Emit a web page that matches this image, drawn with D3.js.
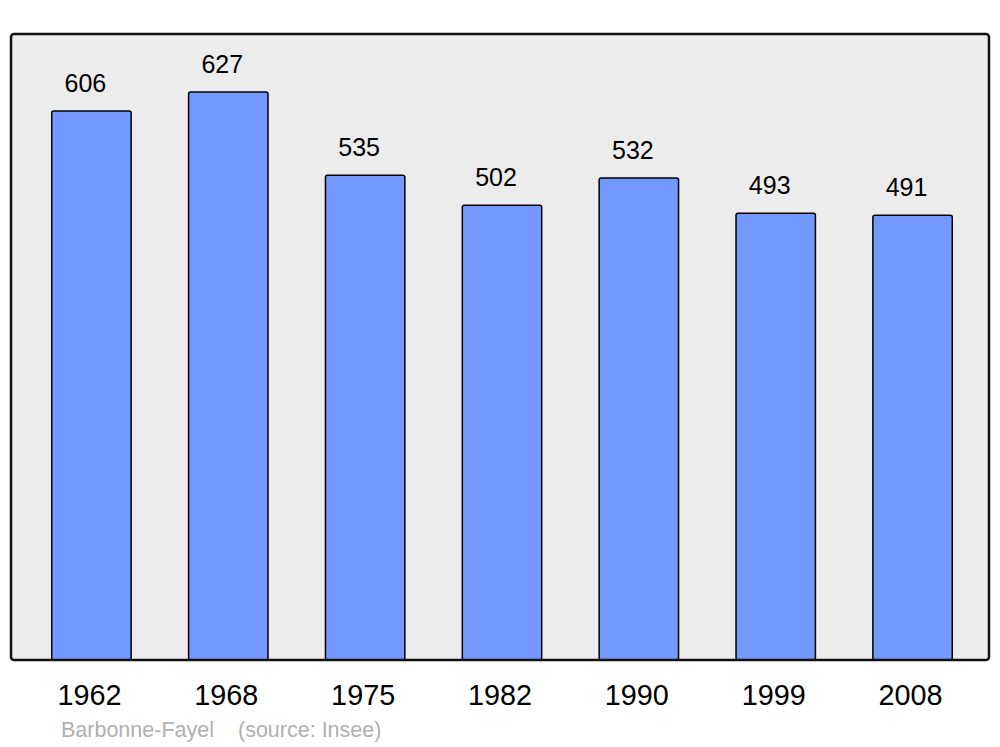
<!DOCTYPE html>
<html><head><meta charset="utf-8">
<script src="https://cdn.jsdelivr.net/npm/d3@7"></script>
<style>body{margin:0;background:#fff}svg{display:block}</style>
</head><body>
<script>
const years = ["1962","1968","1975","1982","1990","1999","2008"];
const population = [606,627,535,502,532,493,491];
const placeName = "Barbonne-Fayel";
const sourceText = "(source: Insee)";

const W=1000,H=747;
const svg=d3.select("body").append("svg").attr("width",W).attr("height",H);
const panel={x0:11,x1:989,y0:34,y1:660};

svg.append("rect").attr("x",panel.x0).attr("y",panel.y0)
  .attr("width",panel.x1-panel.x0).attr("height",panel.y1-panel.y0)
  .attr("rx",3).attr("fill","#ececec");

const x=d3.scaleBand().domain(years).range([23,981]).paddingInner(0.42).paddingOuter(0.21);
const y=d3.scaleLinear().domain([0,691]).range([panel.y1,panel.y0]);

svg.selectAll("rect.bar").data(population).join("rect").attr("class","bar")
  .attr("x",(d,i)=>x(years[i])).attr("y",d=>y(d))
  .attr("width",x.bandwidth()).attr("height",d=>y(0)-y(d))
  .attr("rx",2).attr("fill","#7399ff").attr("stroke","#000").attr("stroke-width",1.5);

svg.selectAll("text.val").data(population).join("text").attr("class","val")
  .attr("x",(d,i)=>x(years[i])+x.bandwidth()/2-6).attr("y",d=>y(d)-19)
  .attr("text-anchor","middle").attr("font-family","Liberation Sans, Arial, sans-serif")
  .attr("font-size",25).attr("fill","#000").text(d=>d);

svg.append("rect").attr("x",panel.x0).attr("y",panel.y0)
  .attr("width",panel.x1-panel.x0).attr("height",panel.y1-panel.y0)
  .attr("rx",3).attr("fill","none").attr("stroke","#111").attr("stroke-width",2.5);

const ax=svg.append("g").attr("transform",`translate(0,${panel.y1})`)
  .call(d3.axisBottom(x).tickSize(0).tickPadding(0));
ax.select(".domain").remove();
ax.selectAll("text").attr("y",45).attr("dy",null).attr("dx",-2)
  .attr("font-family","Liberation Sans, Arial, sans-serif").attr("font-size",28.8).attr("fill","#000");

svg.append("text").attr("x",61).attr("y",737).attr("font-family","Liberation Sans, Arial, sans-serif")
  .attr("font-size",21.5).attr("fill","#b0b0b0").text(placeName);
svg.append("text").attr("x",238).attr("y",737).attr("font-family","Liberation Sans, Arial, sans-serif")
  .attr("font-size",21.5).attr("fill","#b0b0b0").text(sourceText);
</script>
</body></html>
